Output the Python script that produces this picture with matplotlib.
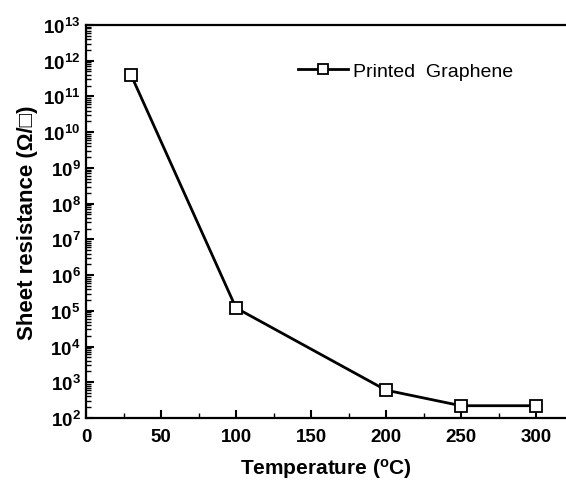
import math
import matplotlib
matplotlib.use("Agg")
import matplotlib.pyplot as plt
from matplotlib.ticker import FixedLocator, LogLocator, FuncFormatter, NullFormatter

plt.rcParams['font.family'] = ['Liberation Sans', 'DejaVu Sans']
plt.rcParams['mathtext.fontset'] = 'custom'
plt.rcParams['mathtext.rm'] = 'Liberation Sans:bold'
plt.rcParams['mathtext.bf'] = 'Liberation Sans:bold'
plt.rcParams['mathtext.it'] = 'Liberation Sans:bold'

# Annealing temperature (°C) and sheet resistance (ohm/sq)
temperature = [30, 100, 200, 250, 300]
sheet_resistance = [4.0e11, 1.2e5, 6.0e2, 2.2e2, 2.2e2]
series_label = "Printed  Graphene"
x_ticks = [0, 50, 100, 150, 200, 250, 300]

fig = plt.figure(figsize=(5.66, 4.81), dpi=100)
ax = fig.add_axes([0.152, 0.129, 0.848, 0.817])

ax.plot(temperature, sheet_resistance, '-s', color='black', lw=2.0,
        markersize=8, markerfacecolor='white', markeredgecolor='black',
        markeredgewidth=1.3, label=series_label)

ax.set_yscale('log')
ax.set_ylim(1e2, 1e13)
ax.set_xlim(0, 320)

ax.xaxis.set_major_locator(FixedLocator(x_ticks))
ax.xaxis.set_minor_locator(FixedLocator([25, 75, 125, 175, 225, 275]))
ax.yaxis.set_major_locator(LogLocator(base=10, numticks=20))
ax.yaxis.set_minor_locator(LogLocator(base=10, subs=range(2, 10), numticks=200))
ax.yaxis.set_major_formatter(
    FuncFormatter(lambda v, p: r'$\mathbf{10^{%d}}$' % round(math.log10(v))))
ax.yaxis.set_minor_formatter(NullFormatter())

ax.tick_params(axis='both', which='major', direction='in', length=6, width=1.5,
               labelsize=13.5)
ax.tick_params(axis='both', which='minor', direction='in', length=3.5, width=1.0)
ax.tick_params(axis='x', which='major', pad=7)
ax.tick_params(axis='y', which='major', pad=4)
for lbl in ax.get_xticklabels():
    lbl.set_fontweight('bold')

ax.spines['right'].set_visible(False)
for s in ('left', 'bottom', 'top'):
    ax.spines[s].set_linewidth(1.6)

ax.set_xlabel(r'Temperature ($\mathregular{^o}$C)', fontsize=15,
              fontweight='bold', labelpad=8)
ax.set_ylabel('Sheet resistance (Ω/□)', fontsize=16, fontweight='bold',
              labelpad=4)

ax.legend(loc='center left', bbox_to_anchor=(0.405, 0.883), frameon=False,
          fontsize=14, handlelength=2.6, handletextpad=0.25, markerscale=0.85)

fig.savefig('out.png', dpi=100)
